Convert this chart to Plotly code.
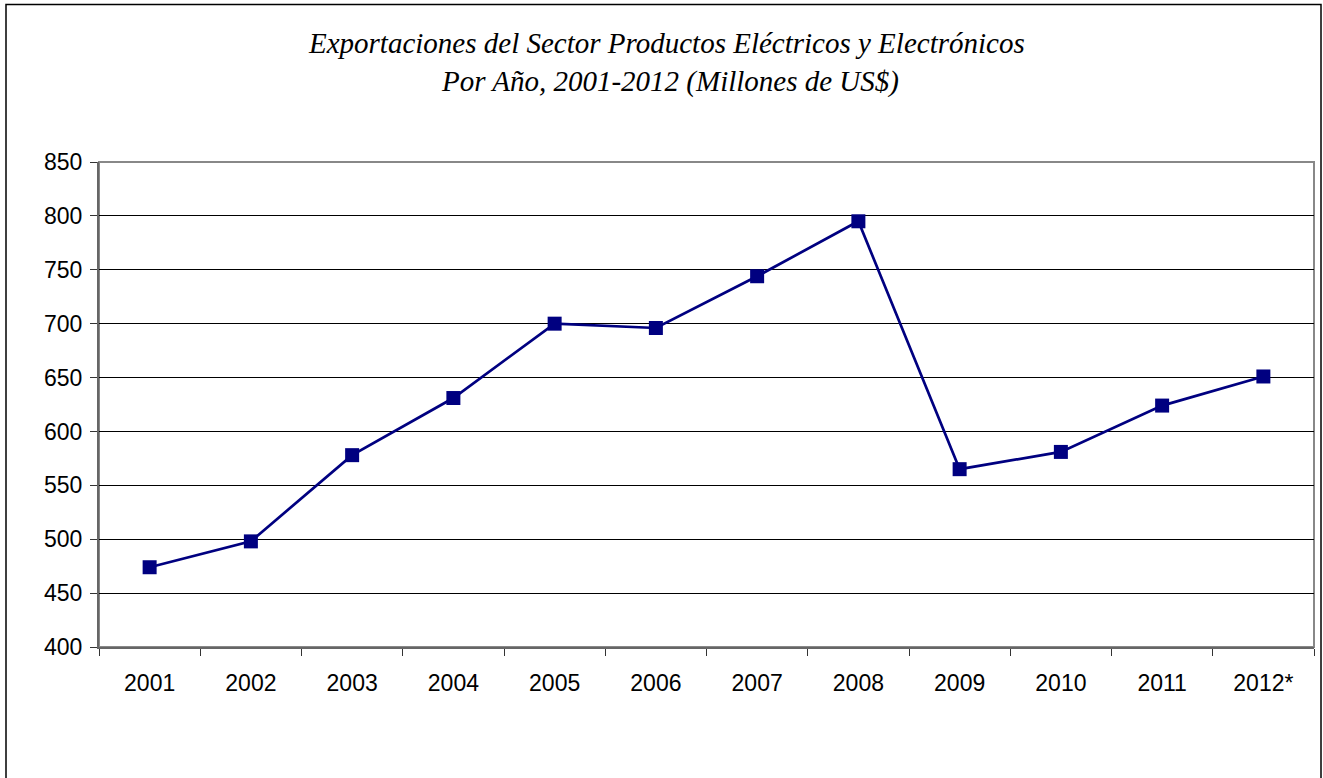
import plotly.graph_objects as go

years = ["2001", "2002", "2003", "2004", "2005", "2006", "2007", "2008", "2009", "2010", "2011", "2012*"]
values = [474, 498, 578, 631, 700, 696, 744, 795, 565, 581, 624, 651]
title_line1 = "Exportaciones del Sector Productos Eléctricos y Electrónicos"
title_line2 = "Por Año, 2001-2012 (Millones de US$)"

W, H = 1323, 778
L, R, T, B = 99, 9, 162, 131
pw, ph = W - L - R, H - T - B

def px_x(x):
    return (x - L) / pw

def px_y(y):
    return (H - B - y) / ph

fig = go.Figure()
fig.add_trace(go.Scatter(
    x=years, y=values, mode="lines+markers",
    line=dict(color="#000080", width=2.7),
    marker=dict(symbol="square", size=14, color="#000080"),
    showlegend=False, cliponaxis=False,
))

fig.update_layout(
    width=W, height=H,
    margin=dict(l=L, r=R, t=T, b=B),
    paper_bgcolor="white", plot_bgcolor="white",
    font=dict(family="Liberation Sans, Arial", size=23, color="black"),
    xaxis=dict(
        type="category", range=[-0.5, 11.5], tickson="boundaries",
        ticks="outside", ticklen=7,
        tickcolor="#333", tickwidth=1, showgrid=False,
        showline=True, linecolor="#666", linewidth=2, mirror=False,
        ticklabelstandoff=14, zeroline=False,
    ),
    yaxis=dict(
        range=[400, 850], dtick=50, ticks="outside", ticklen=7,
        tickcolor="#333", tickwidth=1,
        showgrid=True, gridcolor="black", gridwidth=1,
        showline=True, linecolor="#666", linewidth=2,
        ticklabelstandoff=3, zeroline=False,
    ),
    shapes=[
        dict(type="rect", xref="paper", yref="paper", x0=0, x1=1, y0=0, y1=1,
             line=dict(color="#888", width=2), layer="below"),
        dict(type="rect", xref="paper", yref="paper",
             x0=px_x(6), x1=px_x(1321), y0=px_y(800), y1=px_y(4.5),
             line=dict(color="black", width=1.5)),
    ],
    annotations=[
        dict(text=title_line1, xref="paper", yref="paper",
             x=px_x(666), y=px_y(43), xanchor="center", yanchor="middle",
             showarrow=False,
             font=dict(family="Liberation Serif, Times New Roman", size=29, style="italic")),
        dict(text=title_line2, xref="paper", yref="paper",
             x=px_x(670), y=px_y(82), xanchor="center", yanchor="middle",
             showarrow=False,
             font=dict(family="Liberation Serif, Times New Roman", size=29, style="italic")),
    ],
)

fig.write_html(
    "out.html",
    config={"displayModeBar": False},
    post_script="document.body.style.margin='0';document.body.style.overflow='hidden';",
)
